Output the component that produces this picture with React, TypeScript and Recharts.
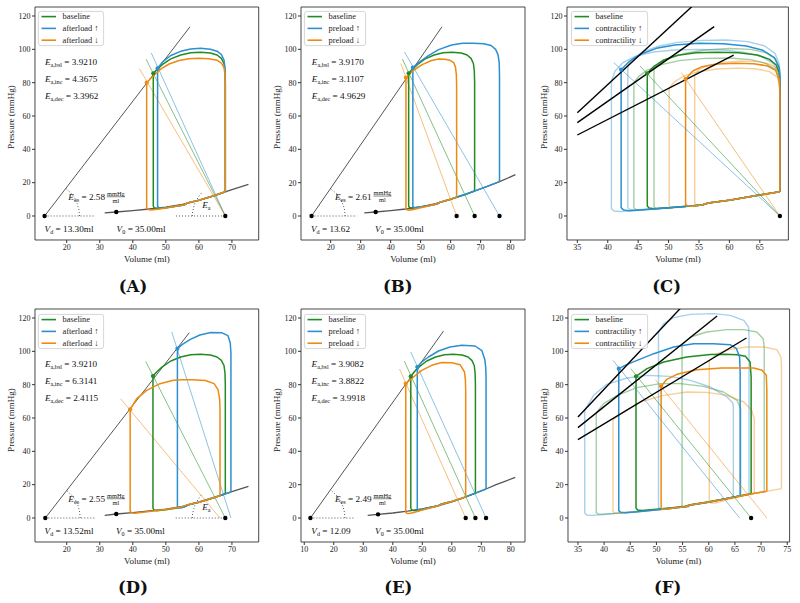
import React from 'react';
import { ComposedChart, Line, XAxis, YAxis, Scatter, ReferenceArea, ReferenceDot } from 'recharts';

type P = [number, number];

// ---------- tick labels ----------
const Y_TICKS = [0, 20, 40, 60, 80, 100, 120];
const X_TICKS_AD = [20, 30, 40, 50, 60, 70];
const X_TICKS_B = [20, 30, 40, 50, 60, 70, 80];
const X_TICKS_E = [10, 20, 30, 40, 50, 60, 70, 80];
const X_TICKS_CF_C = [35, 40, 45, 50, 55, 60, 65];
const X_TICKS_CF_F = [35, 40, 45, 50, 55, 60, 65, 70, 75];

const LEG_AFTERLOAD = ['baseline', 'afterload ↑', 'afterload ↓'];
const LEG_PRELOAD = ['baseline', 'preload ↑', 'preload ↓'];
const LEG_CONTRACT = ['baseline', 'contractility ↑', 'contractility ↓'];

// ---------- Panel A (afterload) ----------
const A_EDPVR: P[] = [[31.5,1.9],[35,2.4],[40,3.2],[45,4.2],[50,5.3],[55,7.0],[60,9.4],[65,12.3],[68,14.5],[70,15.8],[75,19.0]];
const A_ESPVR: P[] = [[13.3,0],[57.3,113.5]];
const A_BASE: P[] = [[68,14.5],[68,80],[67.9,87],[67.6,91.5],[66.8,94.6],[65.5,96.6],[63.5,97.8],[60.5,98.2],[57.5,97.9],[54.5,96.6],[51.5,94.3],[49,91],[47.3,87.9],[46.2,85.6],[46.2,6],[46.5,4.8],[47.3,4.4],[50,4.9],[53,5.8],[55.5,6.6],[56.5,7.8],[60,9.4],[64,11.8],[68,14.5]];
const A_INC: P[] = [[68,14.5],[68,82],[67.9,89],[67.6,93.6],[66.8,96.9],[65.5,98.9],[63.5,100.1],[60.5,100.6],[57.5,100.2],[54.5,98.8],[51.5,96.3],[49.2,92.8],[47.5,88.6],[47.5,6],[47.8,5],[48.6,4.7],[50,4.9],[53,5.8],[55.5,6.6],[56.5,7.8],[60,9.4],[64,11.8],[68,14.5]];
const A_DEC: P[] = [[68,14.5],[68,78],[67.9,85],[67.6,89],[66.8,91.8],[65.5,93.5],[63,94.4],[60,94.7],[57,94.4],[54,93.3],[51,91.2],[48.5,88.3],[46.5,84.6],[45.2,82],[44.2,80],[44.2,5],[44.6,3.9],[45.5,3.6],[48,4.2],[50,4.8],[53,5.8],[55.5,6.6],[56.5,7.8],[60,9.4],[64,11.8],[68,14.5]];
const A_EA_BASE: P[] = [[68,0],[44,94.1]];
const A_EA_INC: P[] = [[68,0],[45.6,97.8]];
const A_EA_DEC: P[] = [[68,0],[42,88.4]];
const A_ES_PTS: P[] = [[46.2,85.6],[47.5,88.6],[44.2,80]];
const A_BLACK: P[] = [[13.3,0],[35,2.4],[68,0]];
const A_DOT_L: P[] = [[13.3,0],[28.4,0]];
const A_DOT_R: P[] = [[53.1,0],[68,0]];
const A_ARC_EES: P[] = [[23.9,0],[23.7,3.6],[23.2,7.2],[22.5,10.5],[21.4,13.5],[19.8,16.5]];
const A_ARC_EA: P[] = [[58,0],[58.1,2.6],[58.4,5.1],[58.8,7.6],[59.4,9.9],[60.1,12.1],[60.9,14]];
const A_EA_VALUES = ['3.9210', '4.3675', '3.3962'];

// ---------- Panel B (preload) ----------
const B_EDPVR: P[] = [[31.2,1.9],[35,2.4],[40,3.2],[45,4.2],[50,5.5],[55,7.4],[60,10.0],[62,11.3],[65,13.0],[68,15.0],[72,17.6],[76.3,20.6],[80,23.5],[81.6,24.8]];
const B_ESPVR: P[] = [[13.62,0],[57.1,113.5]];
const B_BASE: P[] = [[68,15],[68,80],[67.9,87],[67.6,91.5],[66.8,94.6],[65.5,96.6],[63.5,97.8],[60.5,98.2],[57.5,97.9],[54.5,96.6],[51.5,94.3],[49,91],[47.2,88],[46,85.6],[46,6],[46.3,5.1],[47,4.8],[50,5.4],[53,6.3],[55.5,7.2],[56.5,8.3],[60,10],[64,12.4],[68,15]];
const B_INC: P[] = [[76.3,20.6],[76.3,84],[76.2,92],[75.8,96.8],[75,100],[73.5,102.3],[71,103.4],[67.5,103.7],[64,103.6],[60.3,102.6],[56,99.8],[52.6,96.2],[49.8,92.6],[47.4,89],[47.4,6],[47.7,5.1],[48.5,4.9],[50,5.4],[53,6.3],[55.5,7.2],[56.5,8.3],[60,10],[64,12.4],[68,15],[72,17.6],[76.3,20.6]];
const B_DEC: P[] = [[62,11.3],[62,78],[61.9,85],[61.6,89.5],[61,92],[59.8,93.4],[58,94.1],[56,94.2],[53.6,93.3],[50.5,90.8],[47.5,87.3],[46.2,85],[45.1,83],[45.1,5],[45.4,3.8],[46.2,3.5],[48,4.1],[50,4.9],[53,6.1],[55.5,7.3],[56.5,8.3],[59,9.6],[62,11.3]];
const B_EA_BASE: P[] = [[68,0],[43.9,94.2]];
const B_EA_INC: P[] = [[76.3,0],[44.6,98.4]];
const B_EA_DEC: P[] = [[62,0],[43.4,91.5]];
const B_ES_PTS: P[] = [[46,85.6],[47.4,89],[45.1,83]];
const B_BLACK: P[] = [[13.62,0],[35,2.4],[62,0],[68,0],[76.3,0]];
const B_DOT_L: P[] = [[13.62,0],[28.7,0]];
const B_ARC_EES: P[] = [[24.8,0],[24.65,3.5],[24.15,6.8],[23.3,10],[22.2,12.9],[20.0,16.4]];
const B_EA_VALUES = ['3.9170', '3.1107', '4.9629'];

// ---------- Panel C (contractility, ESV/ESP) ----------
const C_ESPVR_INC: P[] = [[35,62],[55,129.6]];
const C_ESPVR_BASE: P[] = [[35,56],[57.5,113.6]];
const C_ESPVR_DEC: P[] = [[35,48.6],[60.7,96.6]];
const C_BASE: P[] = [[68.3,14.6],[68.3,80],[68.2,86],[67.7,90.6],[66.6,94],[64.6,96.6],[61.5,98],[58,98.3],[54.5,97.9],[51.5,96.4],[49.2,93.6],[47.6,89.8],[46.5,85.6],[46.5,6],[46.8,4.8],[47.6,4.4],[50,4.9],[53,5.8],[55.5,6.6],[56.5,7.8],[60,9.5],[64,12],[68.3,14.6]];
const C_INC: P[] = [[68.3,14.6],[68.3,84],[68.2,89],[67.4,95],[65.5,99.4],[62.8,102],[59,103.4],[55,103.6],[51,102.6],[48,100.6],[45.5,97.2],[43.5,92.6],[42.2,87.8],[42.2,5],[42.6,3.6],[43.5,3.2],[46,3.8],[50,4.9],[53,5.8],[55.5,6.6],[56.5,7.8],[60,9.5],[64,12],[68.3,14.6]];
const C_DEC: P[] = [[68.3,14.6],[68.3,75],[68.2,82],[67.6,87.4],[66.3,90],[64,91.4],[61,91.6],[58,91.2],[55.5,89.6],[54,87],[52.8,82.2],[52.8,7],[53.1,6.1],[54,5.9],[55.5,6.6],[56.5,7.8],[60,9.5],[64,12],[68.3,14.6]];
const C_INC_LO: P[] = [[68.3,14.6],[68.3,80],[68.1,86],[67.2,91.6],[65.3,95.6],[62.5,98.2],[59,99.6],[55,100],[51,99.6],[47.5,98.4],[44.5,95.8],[42.5,92],[41.2,87],[40.6,80.8],[40.6,4.5],[41,3],[42,2.7],[45,3.4],[50,4.8],[53,5.7],[55.5,6.5],[56.5,7.7],[60,9.4],[64,12],[68.3,14.6]];
const C_INC_HI: P[] = [[68.3,14.6],[68.3,85],[68.2,91],[67.5,97.6],[65.8,102],[63,104.6],[59.5,105.6],[55.5,105.4],[51.5,104.2],[48.5,102],[45.8,98.6],[44,94],[43.3,90.2],[43.3,5],[43.6,3.9],[44.5,3.7],[47,4.2],[50,4.9],[53,5.8],[55.5,6.6],[56.5,7.8],[60,9.5],[64,12],[68.3,14.6]];
const C_BASE_LO: P[] = [[68.3,14.6],[68.3,76],[68.2,81],[67.6,87.8],[66,91.6],[63.5,93.8],[60,94.8],[56,94.6],[52,93.4],[49,91],[46.5,87.5],[45,83.5],[44.3,79.8],[44.3,5],[44.6,4],[45.5,3.8],[48,4.4],[50,4.9],[53,5.8],[55.5,6.6],[56.5,7.8],[60,9.5],[64,12],[68.3,14.6]];
const C_BASE_HI: P[] = [[68.3,14.6],[68.3,82],[68.2,88],[67.6,94.2],[66,98],[63.5,100],[60,100.5],[56,99.6],[53,97.8],[50.5,95.2],[48.5,91.6],[47.6,88.3],[47.6,5.5],[47.9,4.7],[48.7,4.5],[50,4.9],[53,5.8],[55.5,6.6],[56.5,7.8],[60,9.5],[64,12],[68.3,14.6]];
const C_DEC_LO: P[] = [[68.3,14.6],[68.3,73],[68.2,78],[67.9,83.2],[66.6,86.6],[64.5,88.2],[61.5,88.7],[58,88.2],[55,86.6],[52.5,84],[51,80.6],[50.1,76.8],[50.1,6],[50.4,5.2],[51.2,5.1],[53,5.8],[55.5,6.6],[56.5,7.8],[60,9.5],[64,12],[68.3,14.6]];
const C_DEC_HI: P[] = [[68.3,14.6],[68.3,77],[68.2,83],[67.9,88],[66.8,91],[64.8,92.6],[62,93],[59,92.2],[56.5,90.4],[55,88],[54.3,84.7],[54.3,7.5],[54.6,6.6],[55.4,6.4],[56.5,7.8],[60,9.5],[64,12],[68.3,14.6]];
const C_EA_BASE: P[] = [[68.3,0],[45.3,90]];
const C_EA_INC: P[] = [[68.3,0],[41,92]];
const C_EA_DEC: P[] = [[68.3,0],[52.1,86]];
const C_ES_PTS: P[] = [[46.5,85.6],[42.2,87.8],[52.8,82.2]];
const C_BLACK: P[] = [[68.3,0]];

// ---------- Panel D (afterload, strong) ----------
const D_EDPVR: P[] = [[31.5,1.6],[35,2.4],[40,3.2],[45,4.2],[50,5.3],[55,7.0],[60,9.4],[65,12.3],[68,14.5],[70,15.8],[75,19.0]];
const D_ESPVR: P[] = [[13.52,0],[57.1,111.2]];
const D_BASE: P[] = [[68,14.5],[68,80],[67.9,87],[67.6,91.5],[66.8,94.6],[65.5,96.6],[63.5,97.8],[60.5,98.2],[57.5,97.9],[54.5,96.6],[51.5,94.2],[49,90.8],[47.2,87.6],[46.1,85.2],[46.1,6],[46.4,4.8],[47.2,4.4],[50,4.9],[53,5.8],[55.5,6.6],[56.5,7.8],[60,9.4],[64,11.8],[68,14.5]];
const D_INC: P[] = [[69.7,15.6],[69.7,92],[69.7,99],[69.5,105],[68.8,109.4],[67,111.1],[63.6,111.3],[60.3,109.8],[57.3,107],[55,104.2],[53.5,101.6],[53.5,7],[53.8,6.2],[55,6.2],[56.5,7.4],[57.5,8.4],[60,9.6],[65,12.6],[69.7,15.6]];
const D_DEC: P[] = [[66.4,13.4],[66.4,64],[66.3,71],[65.8,77],[64.6,80.6],[62,82.5],[58,83],[54.8,83],[52.3,82.6],[48.2,80.6],[44.2,76.6],[41.2,71.6],[39.2,65.2],[39.2,4.2],[39.6,3.1],[40.5,2.9],[45,3.9],[50,5.1],[55,6.8],[56.5,8],[60,9.5],[63,11.2],[66.4,13.4]];
const D_EA_BASE: P[] = [[68,0],[43.9,94]];
const D_EA_INC: P[] = [[69.7,0],[51.8,111.6]];
const D_EA_DEC: P[] = [[66.4,0],[36.3,71.6]];
const D_ES_PTS: P[] = [[46.1,85.2],[53.5,101.6],[39.2,65.2]];
const D_BLACK: P[] = [[13.52,0],[35,2.4],[68,0]];
const D_DOT_L: P[] = [[13.52,0],[28.4,0]];
const D_DOT_R: P[] = [[53,0],[68,0]];
const D_ARC_EES: P[] = [[24.1,0],[23.9,3.6],[23.5,7.2],[22.7,10.5],[21.6,13.5],[20.0,16.5]];
const D_ARC_EA: P[] = [[58,0],[58.1,2.6],[58.4,5.1],[58.8,7.6],[59.4,9.9],[60.1,12.1],[60.9,14]];
const D_EA_VALUES = ['3.9210', '6.3141', '2.4115'];

// ---------- Panel E (preload, Ea const) ----------
const E_EDPVR: P[] = [[31.5,1.6],[35,2.2],[40,3.0],[45,4.1],[50,5.4],[55,7.2],[60,9.7],[64.7,12.6],[68,14.9],[71.6,17.4],[75,20],[78,22],[81.5,24.4]];
const E_ESPVR: P[] = [[12.09,0],[57.2,112.2]];
const E_BASE: P[] = [[68,14.9],[68,80],[67.9,87],[67.6,91.5],[66.8,94.6],[65.5,96.6],[63.5,97.8],[60.5,98.2],[57.5,97.9],[54.5,96.6],[51.5,94.2],[49,90.8],[47.2,87.6],[46.1,85],[46.1,6],[46.4,4.8],[47.2,4.5],[50,5.3],[53,6.4],[55.5,7.4],[56.5,8.4],[60,9.9],[64,12.2],[68,14.9]];
const E_INC: P[] = [[71.6,17.4],[71.6,84],[71.5,90],[71.2,95],[70.2,100.4],[67.9,103.2],[63.4,103.7],[59.4,102.6],[55.5,100.2],[52.1,96.6],[49.8,93.6],[48.3,90.6],[48.3,5.6],[48.7,4.7],[49.5,4.8],[51,5.6],[53,6.4],[55.5,7.4],[56.5,8.4],[60,9.9],[64,12.2],[68,14.9],[71.6,17.4]];
const E_DEC: P[] = [[64.7,12.6],[64.7,77],[64.6,83],[64.3,87.6],[62.8,92],[60,93.2],[56.6,93.3],[53.2,91.6],[49.8,88.6],[47,84.6],[44.4,80.6],[44.4,3.4],[44.9,2.7],[46,2.9],[48,3.8],[50,4.8],[53,6.1],[55.5,7.3],[56.5,8.3],[60,9.9],[64.7,12.6]];
const E_EA_BASE: P[] = [[68,0],[43.9,94.2]];
const E_EA_INC: P[] = [[71.6,0],[46.1,99.6]];
const E_EA_DEC: P[] = [[64.7,0],[42.3,89.4]];
const E_ES_PTS: P[] = [[46.1,85],[48.3,90.6],[44.4,80.6]];
const E_BLACK: P[] = [[12.09,0],[35,2.2],[64.7,0],[68,0],[71.6,0]];
const E_DOT_L: P[] = [[12.09,0],[26.7,0]];
const E_ARC_EES: P[] = [[23.8,0],[23.6,3.6],[23.1,7.1],[22.2,10.35],[21.05,13.3],[18.9,16.9]];
const E_EA_VALUES = ['3.9082', '3.8822', '3.9918'];

// ---------- Panel F (contractility, varied loads) ----------
const F_ESPVR_INC: P[] = [[35,60.6],[55,127.2]];
const F_ESPVR_BASE: P[] = [[35,54.2],[61.6,121.2]];
const F_ESPVR_DEC: P[] = [[35,47],[67.2,108]];
const F_BASE: P[] = [[68.1,14.6],[68.1,84.6],[67.9,93.6],[67,97],[65.4,98],[63,98.2],[60.3,98.1],[55.8,96.6],[51.4,93.6],[48.2,89.6],[46.1,85],[46.1,6],[46.4,4.8],[47.2,4.5],[50,5.2],[53,6.1],[55.5,7],[56.5,8],[60,9.7],[64,12],[68.1,14.6]];
const F_INC: P[] = [[66,13.3],[66,87.6],[65.9,96.6],[65.3,101.6],[64.1,104],[60.9,104.6],[57.1,104.6],[53.3,102.6],[49.5,98.6],[46.3,94.6],[44,91.6],[42.8,89.6],[42.8,4.4],[43.2,3.4],[44.2,3.2],[47,3.9],[50,4.9],[53,5.9],[55.5,6.8],[56.5,7.8],[60,9.5],[63,11.4],[66,13.3]];
const F_DEC: P[] = [[71.1,16],[71.1,76.6],[71,85.6],[70.2,88.6],[68.6,90],[62.5,90],[57.7,89],[53.9,86.2],[52,83.2],[50.9,79],[50.9,6],[51.2,5.3],[52,5.2],[53,5.9],[55.5,6.8],[56.5,7.8],[60,9.6],[64,11.9],[68,14.4],[71.1,16]];
const F_INC_LO: P[] = [[64.7,12.6],[64.7,66.6],[64.6,69],[63.5,72.6],[60.3,78.6],[56.5,82.6],[52.6,85],[48.2,85.6],[44.4,84],[40.5,80.2],[38,73.6],[36.3,64.6],[36.3,3],[36.7,1.8],[37.6,1.6],[40,2.1],[45,3.5],[50,4.8],[53,5.8],[55.5,6.7],[56.5,7.6],[60,9.4],[64.7,12.6]];
const F_INC_HI: P[] = [[67.7,14.4],[67.7,108.6],[67.6,114.6],[66.7,118.6],[64.1,121.6],[60.9,122.6],[56.5,122.2],[53.3,120.2],[51.4,116.6],[50.4,111.8],[50.4,6.5],[50.7,5.6],[51.5,5.5],[53,6],[55.5,6.8],[56.5,7.8],[60,9.5],[64,12],[67.7,14.4]];
const F_BASE_LO: P[] = [[66.1,13.4],[66.1,65.6],[65.4,70.6],[62.8,75.6],[59,79],[54.6,80.6],[50.7,80.6],[46.3,78.2],[42.5,73.6],[39.9,68.6],[38.5,63],[38.5,3.2],[38.9,2.4],[39.8,2.3],[42,2.8],[45,3.6],[50,4.9],[53,5.9],[55.5,6.8],[56.5,7.8],[60,9.5],[63,11.4],[66.1,13.4]];
const F_BASE_HI: P[] = [[70.6,15.8],[70.6,102.6],[70.4,107.6],[69.2,111.6],[66.7,113],[63.5,113],[59.6,111.6],[56.5,108.6],[54.9,104],[54.9,7.2],[55.2,6.5],[56,6.5],[56.5,7.8],[60,9.6],[64,12],[68,14.5],[70.6,15.8]];
const F_DEC_LO: P[] = [[68.7,14.7],[68.7,59.6],[68.2,64.6],[66.7,69.6],[63.5,73.6],[59.6,75.4],[55.8,75.6],[51.4,73.6],[46.9,69.6],[43.7,63.6],[41.7,59],[41.7,3.8],[42.1,2.9],[43,2.8],[45,3.4],[50,4.8],[53,5.8],[55.5,6.7],[56.5,7.7],[60,9.5],[64,12],[68.7,14.7]];
const F_DEC_HI: P[] = [[73.9,17.6],[73.9,90.6],[73.8,96.6],[73,101],[70.5,102.6],[67.3,102.6],[64.1,101.2],[61.6,98.6],[60.1,94.5],[60.1,9.8],[60.4,9],[61.2,9],[64,11.4],[68,14.3],[71,16],[73.9,17.6]];
const F_EA_BASE: P[] = [[68.1,0],[45.1,89.6]];
const F_EA_INC: P[] = [[65.9,0],[41.7,94.6]];
const F_EA_DEC: P[] = [[71.1,0],[49.8,83]];
const F_ES_PTS: P[] = [[46.1,85],[42.8,89.6],[50.9,79]];
const F_BLACK: P[] = [[68.1,0]];

// ---------- styles ----------
const FONT = "'Liberation Serif','DejaVu Serif',serif";
const GREEN = '#228b22';
const BLUE = '#2b8fd0';
const ORANGE = '#ee8a10';
const ES_COLORS = [GREEN, BLUE, ORANGE];
const Y_DOMAIN: [number, number] = [-14.4, 125.4];
const PLOT_H = 233;

type LineSpec = { d: P[]; c: string; w: number; o?: number; dash?: string };
type TextSpec =
  | { k: 'ea'; at: P; sub: string; val: string }
  | { k: 'ees'; at: P; val: string }
  | { k: 'v'; at: P; sub: string; val: string }
  | { k: 'ealabel'; at: P };

type PanelSpec = {
  id: string; plotLeft: number; plotTop: number; plotW: number;
  xDomain: [number, number]; xTicks: number[];
  lines: LineSpec[]; es: P[]; black: P[]; texts: TextSpec[];
  legend: string[]; legendW: number; label: [number, number];
};

const dotted = (d: P[]): LineSpec => ({ d, c: '#555', w: 1, dash: '1 2' });
const eaL = (d: P[], c: string): LineSpec => ({ d, c, w: 1, o: 0.55 });
const loop = (d: P[], c: string): LineSpec => ({ d, c, w: 1.5 });
const light = (d: P[], c: string): LineSpec => ({ d, c, w: 1.4, o: 0.42 });
const gray = (d: P[], w = 1): LineSpec => ({ d, c: '#555', w });
const blk = (d: P[]): LineSpec => ({ d, c: '#000', w: 1.4 });

const eaTexts = (x: number, vals: string[]): TextSpec[] => [
  { k: 'ea', at: [x, 92.3], sub: 'a,bsl', val: vals[0] },
  { k: 'ea', at: [x, 82.2], sub: 'a,inc', val: vals[1] },
  { k: 'ea', at: [x, 72.2], sub: 'a,dec', val: vals[2] },
];

const PANELS: PanelSpec[] = [
  {
    id: 'A', plotLeft: 35, plotTop: 6.7, plotW: 223.7, xDomain: [10.4, 78.1], xTicks: X_TICKS_AD,
    lines: [gray(A_EDPVR, 1.3), gray(A_ESPVR), dotted(A_DOT_L), dotted(A_DOT_R), dotted(A_ARC_EES), dotted(A_ARC_EA),
      eaL(A_EA_BASE, GREEN), eaL(A_EA_INC, BLUE), eaL(A_EA_DEC, ORANGE),
      loop(A_BASE, GREEN), loop(A_INC, BLUE), loop(A_DEC, ORANGE)],
    es: A_ES_PTS, black: A_BLACK,
    texts: [...eaTexts(13.4, A_EA_VALUES), { k: 'ees', at: [20.5, 11.2], val: '2.58' },
      { k: 'v', at: [13.3, -8], sub: 'd', val: '13.30ml' }, { k: 'v', at: [35.1, -8], sub: '0', val: '35.00ml' },
      { k: 'ealabel', at: [61, 6.4] }],
    legend: LEG_AFTERLOAD, legendW: 66, label: [133, 285.5],
  },
  {
    id: 'B', plotLeft: 301, plotTop: 6.7, plotW: 224, xDomain: [10.1, 84.8], xTicks: X_TICKS_B,
    lines: [gray(B_EDPVR, 1.3), gray(B_ESPVR), dotted(B_DOT_L), dotted(B_ARC_EES),
      eaL(B_EA_BASE, GREEN), eaL(B_EA_INC, BLUE), eaL(B_EA_DEC, ORANGE),
      loop(B_BASE, GREEN), loop(B_INC, BLUE), loop(B_DEC, ORANGE)],
    es: B_ES_PTS, black: B_BLACK,
    texts: [...eaTexts(13.7, B_EA_VALUES), { k: 'ees', at: [21.4, 11.6], val: '2.61' },
      { k: 'v', at: [13.4, -8], sub: 'd', val: '13.62' }, { k: 'v', at: [34.8, -8], sub: '0', val: '35.00ml' }],
    legend: LEG_PRELOAD, legendW: 62, label: [397.7, 285.5],
  },
  {
    id: 'C', plotLeft: 567.3, plotTop: 6.7, plotW: 221.4, xDomain: [33.3, 69.7], xTicks: X_TICKS_CF_C,
    lines: [light(C_BASE_LO, GREEN), light(C_BASE_HI, GREEN), light(C_INC_LO, BLUE), light(C_INC_HI, BLUE),
      light(C_DEC_LO, ORANGE), light(C_DEC_HI, ORANGE),
      loop(C_BASE, GREEN), loop(C_INC, BLUE), loop(C_DEC, ORANGE),
      eaL(C_EA_BASE, GREEN), eaL(C_EA_INC, BLUE), eaL(C_EA_DEC, ORANGE),
      blk(C_ESPVR_INC), blk(C_ESPVR_BASE), blk(C_ESPVR_DEC)],
    es: C_ES_PTS, black: C_BLACK, texts: [],
    legend: LEG_CONTRACT, legendW: 77, label: [666.7, 285.5],
  },
  {
    id: 'D', plotLeft: 35, plotTop: 309.3, plotW: 223.7, xDomain: [10.4, 78.1], xTicks: X_TICKS_AD,
    lines: [gray(D_EDPVR, 1.3), gray(D_ESPVR), dotted(D_DOT_L), dotted(D_DOT_R), dotted(D_ARC_EES), dotted(D_ARC_EA),
      eaL(D_EA_BASE, GREEN), eaL(D_EA_INC, BLUE), eaL(D_EA_DEC, ORANGE),
      loop(D_BASE, GREEN), loop(D_INC, BLUE), loop(D_DEC, ORANGE)],
    es: D_ES_PTS, black: D_BLACK,
    texts: [...eaTexts(13.4, D_EA_VALUES), { k: 'ees', at: [20.5, 11.2], val: '2.55' },
      { k: 'v', at: [13.3, -8], sub: 'd', val: '13.52ml' }, { k: 'v', at: [34.9, -8], sub: '0', val: '35.00ml' },
      { k: 'ealabel', at: [61, 6.4] }],
    legend: LEG_AFTERLOAD, legendW: 66, label: [133, 587],
  },
  {
    id: 'E', plotLeft: 301, plotTop: 309.3, plotW: 224, xDomain: [8.9, 84.8], xTicks: X_TICKS_E,
    lines: [gray(E_EDPVR, 1.3), gray(E_ESPVR), dotted(E_DOT_L), dotted(E_ARC_EES),
      eaL(E_EA_BASE, GREEN), eaL(E_EA_INC, BLUE), eaL(E_EA_DEC, ORANGE),
      loop(E_BASE, GREEN), loop(E_INC, BLUE), loop(E_DEC, ORANGE)],
    es: E_ES_PTS, black: E_BLACK,
    texts: [...eaTexts(12.5, E_EA_VALUES), { k: 'ees', at: [20.4, 11.2], val: '2.49' },
      { k: 'v', at: [12.4, -8], sub: 'd', val: '12.09' }, { k: 'v', at: [34.0, -8], sub: '0', val: '35.00ml' }],
    legend: LEG_PRELOAD, legendW: 62, label: [398.3, 587],
  },
  {
    id: 'F', plotLeft: 567.7, plotTop: 309.3, plotW: 221.6, xDomain: [33.1, 75.45], xTicks: X_TICKS_CF_F,
    lines: [light(F_BASE_LO, GREEN), light(F_BASE_HI, GREEN), light(F_INC_LO, BLUE), light(F_INC_HI, BLUE),
      light(F_DEC_LO, ORANGE), light(F_DEC_HI, ORANGE),
      loop(F_BASE, GREEN), loop(F_INC, BLUE), loop(F_DEC, ORANGE),
      eaL(F_EA_BASE, GREEN), eaL(F_EA_INC, BLUE), eaL(F_EA_DEC, ORANGE),
      blk(F_ESPVR_INC), blk(F_ESPVR_BASE), blk(F_ESPVR_DEC)],
    es: F_ES_PTS, black: F_BLACK, texts: [],
    legend: LEG_CONTRACT, legendW: 77, label: [667.7, 587],
  },
];

const toObj = (d: P[]) => d.map(([v, p]) => ({ v, p }));

const TXT = 9.2;

function renderText(t: TextSpec, cx: number, cy: number) {
  const base = { fontFamily: FONT, fontSize: TXT, fill: '#111', dominantBaseline: 'central' as const };
  if (t.k === 'ea') {
    return (
      <text x={cx} y={cy} {...base}>
        <tspan fontStyle="italic">E</tspan>
        <tspan fontSize={6.2} dy={2}>{t.sub}</tspan>
        <tspan dy={-2}>{` = ${t.val}`}</tspan>
      </text>
    );
  }
  if (t.k === 'v') {
    return (
      <text x={cx} y={cy} {...base}>
        <tspan fontStyle="italic">V</tspan>
        <tspan fontSize={6.2} dy={2}>{t.sub}</tspan>
        <tspan dy={-2}>{` = ${t.val}`}</tspan>
      </text>
    );
  }
  if (t.k === 'ealabel') {
    return (
      <text x={cx} y={cy} {...base}>
        <tspan fontStyle="italic">E</tspan>
        <tspan fontSize={6.2} dy={2}>a</tspan>
      </text>
    );
  }
  return (
    <g>
      <text x={cx} y={cy} {...base}>
        <tspan fontStyle="italic">E</tspan>
        <tspan fontSize={6.2} dy={2}>es</tspan>
        <tspan dy={-2}>{` = ${t.val}`}</tspan>
      </text>
      <text x={cx + 47.5} y={cy - 3.7} fontFamily={FONT} fontSize={6.4} textAnchor="middle" dominantBaseline="central" fill="#111">mmHg</text>
      <line x1={cx + 38.5} x2={cx + 56.5} y1={cy - 0.6} y2={cy - 0.6} stroke="#111" strokeWidth={0.5} />
      <text x={cx + 47.5} y={cy + 2.9} fontFamily={FONT} fontSize={6.4} textAnchor="middle" dominantBaseline="central" fill="#111">ml</text>
    </g>
  );
}

function Legend({ s }: { s: PanelSpec }) {
  return (
    <svg width={s.legendW} height={35}
      style={{ position: 'absolute', left: s.plotLeft + 3.3, top: s.plotTop + 4.6, overflow: 'visible' }}>
      <rect x={0.4} y={0.4} width={s.legendW - 0.8} height={34.2} rx={2.5} fill="#fff" fillOpacity={0.85}
        stroke="#ccc" strokeWidth={0.8} />
      {s.legend.map((lab, i) => (
        <g key={lab}>
          <line x1={3.5} x2={18} y1={5.6 + i * 11.8} y2={5.6 + i * 11.8} stroke={ES_COLORS[i]} strokeWidth={1.6} />
          <text x={24.5} y={5.6 + i * 11.8} fontFamily={FONT} fontSize={8.4} fill="#222" dominantBaseline="central">{lab}</text>
        </g>
      ))}
    </svg>
  );
}

function Panel({ s }: { s: PanelSpec }) {
  const chartW = 35 + s.plotW + 6;
  const tickStyle = { fontSize: 8, fill: '#222', fontFamily: FONT };
  return (
    <>
      <div style={{ position: 'absolute', left: s.plotLeft - 35, top: s.plotTop - 7 }}>
        <ComposedChart width={chartW} height={7 + PLOT_H + 50} margin={{ top: 7, right: 6, bottom: 0, left: 0 }}>
          <XAxis type="number" dataKey="v" domain={s.xDomain} ticks={s.xTicks} allowDataOverflow interval={0}
            height={50} tickSize={3} tickMargin={1.5} tick={tickStyle} axisLine={false} tickLine={{ stroke: '#333' }} />
          <YAxis type="number" dataKey="p" domain={Y_DOMAIN} ticks={Y_TICKS} allowDataOverflow interval={0}
            width={35} tickSize={3} tickMargin={1.5} tick={tickStyle} axisLine={false} tickLine={{ stroke: '#333' }} />
          {s.lines.map((l, i) => (
            <Line key={`l${i}`} data={toObj(l.d)} dataKey="p" type="linear" stroke={l.c} strokeWidth={l.w}
              strokeOpacity={l.o ?? 1} strokeDasharray={l.dash} dot={false} activeDot={false}
              isAnimationActive={false} legendType="none" strokeLinejoin="round" />
          ))}
          {s.es.map((pt, i) => (
            <Scatter key={`es${i}`} data={toObj([pt])} dataKey="p" fill={ES_COLORS[i]} isAnimationActive={false}
              shape={(pr: any) => <circle cx={pr.cx} cy={pr.cy} r={2.1} fill={ES_COLORS[i]} />} />
          ))}
          <Scatter data={toObj(s.black)} dataKey="p" fill="#000" isAnimationActive={false}
            shape={(pr: any) => <circle cx={pr.cx} cy={pr.cy} r={2.2} fill="#000" />} />
          {s.texts.map((t, i) => (
            <ReferenceDot key={`t${i}`} x={t.at[0]} y={t.at[1]} r={1} ifOverflow="visible"
              shape={(pr: any) => renderText(t, pr.cx, pr.cy)} />
          ))}
          <ReferenceArea x1={s.xDomain[0]} x2={s.xDomain[1]} y1={Y_DOMAIN[0]} y2={Y_DOMAIN[1]}
            fill="none" fillOpacity={0} stroke="#333" strokeWidth={0.9} ifOverflow="visible" />
        </ComposedChart>
      </div>
      <Legend s={s} />
      {/* axis labels */}
      <div style={{ position: 'absolute', left: s.plotLeft + s.plotW / 2, top: s.plotTop + PLOT_H + 19,
        transform: 'translate(-50%,-50%)', fontFamily: FONT, fontSize: 9, color: '#222', whiteSpace: 'nowrap' }}>Volume (ml)</div>
      <div style={{ position: 'absolute', left: s.plotLeft - 23.7, top: s.plotTop + 110.5,
        transform: 'translate(-50%,-50%) rotate(-90deg)', fontFamily: FONT, fontSize: 9, color: '#222', whiteSpace: 'nowrap' }}>Pressure (mmHg)</div>
      {/* panel label */}
      <div style={{ position: 'absolute', left: s.label[0], top: s.label[1], transform: 'translate(-50%,-50%)',
        fontFamily: "'DejaVu Serif',serif", fontWeight: 'bold', fontSize: 16.5, color: '#111', whiteSpace: 'nowrap' }}>({s.id})</div>
    </>
  );
}

export default function App() {
  return (
    <div style={{ position: 'absolute', left: 0, top: 0, width: 800, height: 603, background: '#fff', overflow: 'hidden' }}>
      {PANELS.map((s) => <Panel key={s.id} s={s} />)}
    </div>
  );
}
